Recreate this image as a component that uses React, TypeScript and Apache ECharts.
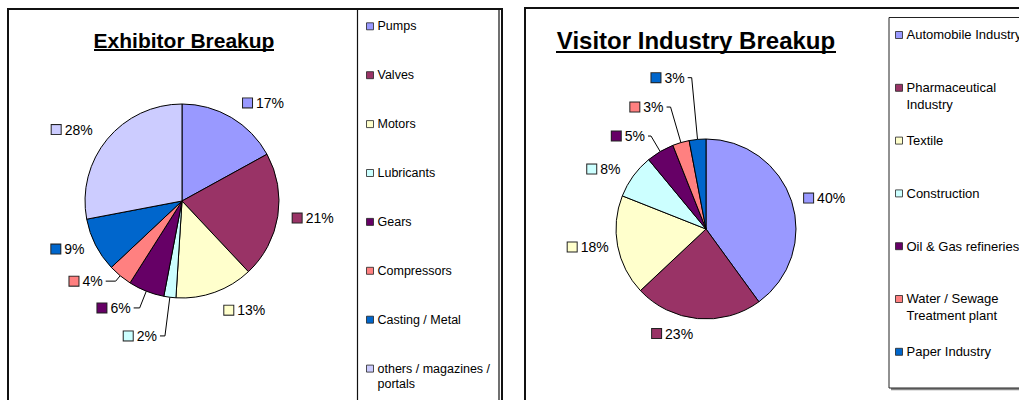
import React, { useEffect, useRef } from "react";
import * as echarts from "echarts";

const FONT = "Liberation Sans, Arial, sans-serif";

const exhibitorTitle = "Exhibitor Breakup";
const exhibitorCategories = [
  "Pumps",
  "Valves",
  "Motors",
  "Lubricants",
  "Gears",
  "Compressors",
  "Casting / Metal",
  "others / magazines / portals",
];
const exhibitorValues = [17, 21, 13, 2, 6, 4, 9, 28];
const exhibitorColors = ["#9999FF", "#993366", "#FFFFCC", "#CCFFFF", "#660066", "#FF8080", "#0066CC", "#CCCCFF"];

const visitorTitle = "Visitor Industry Breakup";
const visitorCategories = [
  "Automobile Industry",
  "Pharmaceutical Industry",
  "Textile",
  "Construction",
  "Oil & Gas refineries",
  "Water / Sewage Treatment plant",
  "Paper Industry",
];
const visitorValues = [40, 23, 18, 8, 5, 3, 3];
const visitorColors = ["#9999FF", "#993366", "#FFFFCC", "#CCFFFF", "#660066", "#FF8080", "#0066CC"];

// label leader-line styling (style only), per slice
const exhibitorLeaderLengths = [17, 12, 19, 39, 18, 7, 9, 15];
const exhibitorLeaderLengths2 = [0, 0, 0, 5, 6, 10, 0, 0];
const visitorLeaderLengths = [10, 15, 6, 12, 18, 37, 62];
const visitorLeaderLengths2 = [0, 0, 0, 0, 3, 4, 4];

function pieSeries(
  names: string[],
  values: number[],
  colors: string[],
  leader: number[],
  leader2: number[],
  center: number[],
  radius: number
) {
  const rich: any = {
    t: { fontSize: 14, fontFamily: FONT, color: "#000", padding: [0, 0, 0, 4] },
  };
  colors.forEach((c, i) => {
    rich["m" + i] = { width: 9, height: 9, backgroundColor: c, borderColor: "#222", borderWidth: 1 };
  });
  return {
    type: "pie",
    center,
    radius,
    startAngle: 90,
    clockwise: true,
    avoidLabelOverlap: false,
    silent: true,
    itemStyle: { borderColor: "#000", borderWidth: 1 },
    label: {
      show: true,
      position: "outside",
      formatter: (p: any) => `{m${p.dataIndex}|}{t|${p.value}%}`,
      rich,
      distanceToLabelLine: 3,
    },
    labelLine: { show: false, length: 15, length2: 0, lineStyle: { color: "#000", width: 1 } },
    emphasis: { disabled: true },
    data: names.map((n, i) => ({
      name: n,
      value: values[i],
      itemStyle: { color: colors[i] },
      labelLine: { show: values[i] <= 6, length: leader[i], length2: leader2[i] },
    })),
  };
}

let measureCtx: CanvasRenderingContext2D | null = null;
function wrapWords(text: string, font: string, maxWidth: number): string {
  if (!measureCtx) measureCtx = document.createElement("canvas").getContext("2d");
  const ctx = measureCtx!;
  ctx.font = font;
  const words = text.split(" ");
  const lines: string[] = [];
  let cur = "";
  words.forEach((w) => {
    const test = cur ? cur + " " + w : w;
    if (cur && ctx.measureText(test).width > maxWidth) {
      lines.push(cur);
      cur = w;
    } else {
      cur = test;
    }
  });
  if (cur) lines.push(cur);
  return lines.join("\n");
}

function legendGraphics(
  names: string[],
  colors: string[],
  x: number,
  y0: number,
  gap: number,
  fontSize: number,
  lineHeight: number,
  wrapWidth: number
) {
  const els: any[] = [];
  const font = `${fontSize}px ${FONT}`;
  names.forEach((n, i) => {
    const cy = y0 + i * gap;
    els.push({
      type: "rect",
      shape: { x: x, y: cy - 3.5, width: 7, height: 7 },
      style: { fill: colors[i], stroke: "#222", lineWidth: 0.8 },
      silent: true,
    });
    els.push({
      type: "text",
      x: x + 11,
      y: cy - lineHeight / 2,
      style: {
        text: wrapWords(n, font, wrapWidth),
        font,
        fill: "#000",
        align: "left",
        verticalAlign: "top",
        lineHeight,
      },
      silent: true,
    });
  });
  return els;
}

export default function App() {
  const ref = useRef<HTMLDivElement>(null);
  useEffect(() => {
    if (!ref.current) return;
    const chart = echarts.init(ref.current, null, { renderer: "svg" });
    const graphic: any[] = [
      // left panel frame
      { type: "rect", shape: { x: 8, y: 9, width: 494, height: 420 }, style: { fill: "none", stroke: "#111", lineWidth: 2 }, silent: true },
      { type: "line", shape: { x1: 357.5, y1: 9, x2: 357.5, y2: 410 }, style: { stroke: "#111", lineWidth: 1.2 }, silent: true },
      { type: "line", shape: { x1: 499, y1: 9, x2: 499, y2: 410 }, style: { stroke: "#111", lineWidth: 1.2 }, silent: true },
      // right panel frame
      { type: "rect", shape: { x: 525, y: 8, width: 600, height: 420 }, style: { fill: "none", stroke: "#111", lineWidth: 2 }, silent: true },
      // legend box shadow + box
      { type: "line", shape: { x1: 891, y1: 389.2, x2: 1030, y2: 389.2 }, style: { stroke: "#888", lineWidth: 2.2 }, silent: true },
      { type: "rect", shape: { x: 889, y: 17.5, width: 200, height: 370.5 }, style: { fill: "none", stroke: "#222", lineWidth: 1 }, silent: true },
      // titles
      {
        type: "text",
        x: 184,
        y: 40,
        style: { text: exhibitorTitle, font: `bold 21px ${FONT}`, fill: "#000", align: "center", verticalAlign: "middle" },
        silent: true,
      },
      { type: "line", shape: { x1: 94, y1: 50, x2: 274, y2: 50 }, style: { stroke: "#000", lineWidth: 2 }, silent: true },
      {
        type: "text",
        x: 696,
        y: 40.5,
        style: { text: visitorTitle, font: `bold 24px ${FONT}`, fill: "#000", align: "center", verticalAlign: "middle" },
        silent: true,
      },
      { type: "line", shape: { x1: 556, y1: 52, x2: 836, y2: 52 }, style: { stroke: "#000", lineWidth: 2 }, silent: true },
      ...legendGraphics(exhibitorCategories, exhibitorColors, 366.5, 26.3, 48.9, 12.5, 15.6, 118),
      ...legendGraphics(visitorCategories, visitorColors, 895.5, 35, 52.8, 13, 16.8, 130),
    ];
    chart.setOption({
      animation: false,
      backgroundColor: "#fff",
      series: [
        pieSeries(exhibitorCategories, exhibitorValues, exhibitorColors, exhibitorLeaderLengths, exhibitorLeaderLengths2, [182, 201], 97),
        pieSeries(visitorCategories, visitorValues, visitorColors, visitorLeaderLengths, visitorLeaderLengths2, [706, 229], 90),
      ],
      graphic,
    });
    return () => chart.dispose();
  }, []);
  return (
    <div
      ref={ref}
      style={{ position: "absolute", left: 0, top: 0, width: 1019, height: 400, background: "#fff" }}
    />
  );
}
